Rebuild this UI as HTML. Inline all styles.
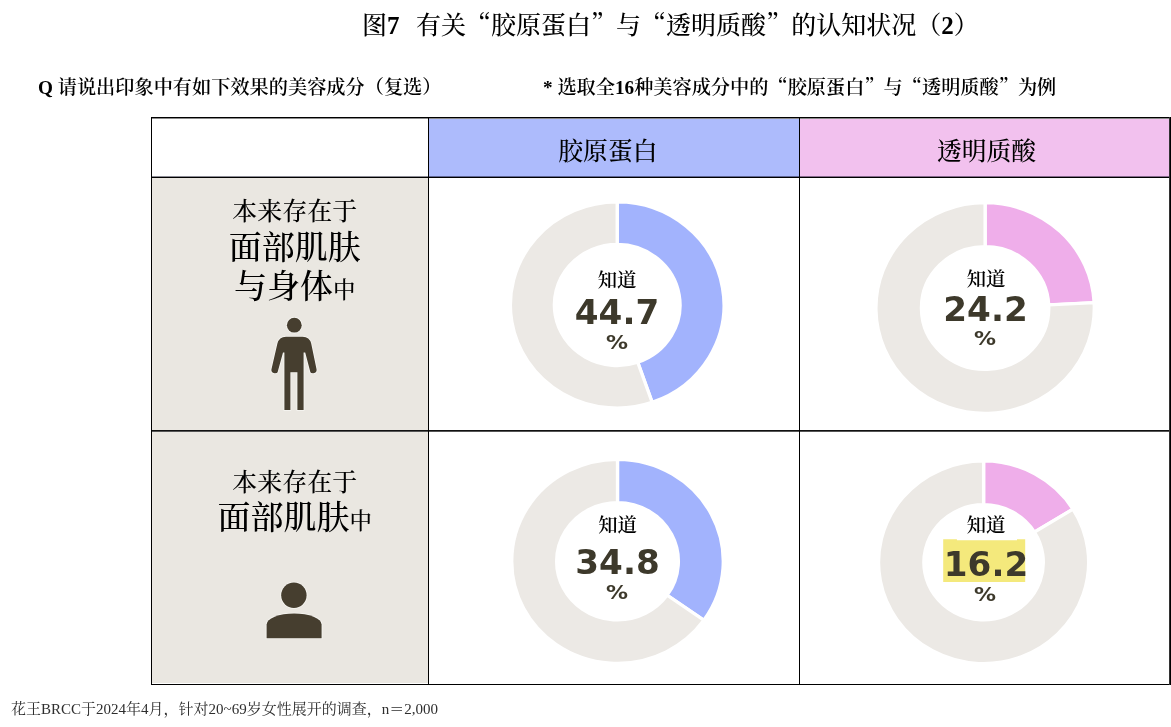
<!DOCTYPE html>
<html lang="zh-CN"><head><meta charset="utf-8"><title>图7 有关“胶原蛋白”与“透明质酸”的认知状况（2）</title>
<style>
*{margin:0;padding:0;box-sizing:border-box}
html,body{width:1171px;height:727px;background:#fff;overflow:hidden}
body{position:relative;font-family:"Liberation Serif","Noto Serif CJK SC",serif;color:#000}
.a{position:absolute;white-space:nowrap}
.ln{position:absolute;background:#000}
.cell{position:absolute}
.cq{font-family:"Noto Serif CJK SC",serif;line-height:0}
.ql{text-align:right}
.qr{text-align:left}
.b{font-weight:bold}
.title{left:362px;top:10.2px;font-size:25px;line-height:32px;font-weight:500}
.title .b{font-weight:bold}
.sub{font-size:19.2px;line-height:24px;font-weight:600}
.sub .b{font-weight:bold}
.hd{font-size:24.8px;line-height:30px;font-weight:500}
.lab{text-align:center;left:156.7px;width:276px;font-weight:500}
.kn{font-size:19.3px;line-height:22px;text-align:center;width:80px;font-weight:600}
.num{font-family:"DejaVu Sans",sans-serif;font-weight:bold;color:#3d392b;font-size:34.2px;line-height:36px;text-align:center;width:120px}
.pc{font-family:"DejaVu Sans",sans-serif;font-weight:bold;color:#3d392b;font-size:18.8px;line-height:22px;text-align:center;width:60px;transform:scaleX(1.17)}
.foot{left:11px;top:698.5px;font-size:15px;line-height:20px;color:#2e2e2e}
</style></head><body>
<div class="a title">图<span class="b">7</span><span style="display:inline-block;width:16.5px"></span>有关<span class="cq">“</span>胶原蛋白<span class="cq">”</span>与<span class="cq">“</span>透明质酸<span class="cq">”</span>的认知状况（<span class="b">2</span>）</div>
<div class="a sub" style="left:38px;top:76px"><span class="b">Q</span> 请说出印象中有如下效果的美容成分（复选）</div>
<div class="a sub" style="left:543px;top:76px"><span class="b">*</span> 选取全<span class="b">16</span>种美容成分中的<span class="cq">“</span>胶原蛋白<span class="cq">”</span>与<span class="cq">“</span>透明质酸<span class="cq">”</span>为例</div>

<div class="cell" style="left:429px;top:118px;width:370px;height:59px;background:#adbbfc"></div>
<div class="cell" style="left:800px;top:118px;width:369px;height:59px;background:#f2c1ee"></div>
<div class="cell" style="left:152px;top:178px;width:276px;height:252px;background:#eae7e1"></div>
<div class="cell" style="left:152px;top:432px;width:276px;height:251px;background:#eae7e1"></div>

<div class="a hd" style="left:422.4px;width:371px;text-align:center;top:136.5px">胶原蛋白</div>
<div class="a hd" style="left:801px;width:371px;text-align:center;top:136.5px">透明质酸</div>

<div class="a lab" style="top:196.5px;font-size:25px;line-height:30px">本来存在于</div>
<div class="a lab" style="top:228px;font-size:33px;line-height:40px">面部肌肤</div>
<div class="a lab" style="top:266.5px;font-size:33px;line-height:40px">与身体<span style="font-size:22.5px">中</span></div>

<div class="a lab" style="top:468px;font-size:25px;line-height:30px">本来存在于</div>
<div class="a lab" style="top:498.2px;font-size:33px;line-height:40px">面部肌肤<span style="font-size:22.5px">中</span></div>

<svg class="a" style="left:0;top:0" width="1171" height="727" viewBox="0 0 1171 727">
<g transform="translate(617.2 305.0) scale(1.037 1)" stroke="#fff" stroke-width="3.2" stroke-linejoin="miter"><path fill="#a2b3fd" d="M0.00 -103.00A103.0 103.0 0 0 1 33.67 97.34L19.81 57.27A60.6 60.6 0 0 0 0.00 -60.60Z"/><path fill="#ece9e5" d="M33.67 97.34A103.0 103.0 0 1 1 -0.00 -103.00L-0.00 -60.60A60.6 60.6 0 1 0 19.81 57.27Z"/></g><g transform="translate(985.1 308.0) scale(1.037 1)" stroke="#fff" stroke-width="3.2" stroke-linejoin="miter"><path fill="#efaeea" d="M0.00 -105.30A105.3 105.3 0 0 1 105.17 -5.29L61.32 -3.09A61.4 61.4 0 0 0 0.00 -61.40Z"/><path fill="#ece9e5" d="M105.17 -5.29A105.3 105.3 0 1 1 -0.00 -105.30L-0.00 -61.40A61.4 61.4 0 1 0 61.32 -3.09Z"/></g><g transform="translate(617.5 561.3) scale(1.037 1)" stroke="#fff" stroke-width="3.2" stroke-linejoin="miter"><path fill="#a2b3fd" d="M0.00 -102.00A102.0 102.0 0 0 1 83.27 58.91L47.92 33.90A58.699999999999996 58.699999999999996 0 0 0 0.00 -58.70Z"/><path fill="#ece9e5" d="M83.27 58.91A102.0 102.0 0 1 1 -0.00 -102.00L-0.00 -58.70A58.699999999999996 58.699999999999996 0 1 0 47.92 33.90Z"/></g><g transform="translate(983.6 562.3) scale(1.037 1)" stroke="#fff" stroke-width="3.2" stroke-linejoin="miter"><path fill="#efaeea" d="M0.00 -101.30A101.3 101.3 0 0 1 86.21 -53.20L49.02 -30.25A57.6 57.6 0 0 0 0.00 -57.60Z"/><path fill="#ece9e5" d="M86.21 -53.20A101.3 101.3 0 1 1 -0.00 -101.30L-0.00 -57.60A57.6 57.6 0 1 0 49.02 -30.25Z"/></g>
<path d="M943.2 539.2H956.9V540.3H1017V539.2H1025.2V582H943.2Z" fill="#f4e97c"/>
<g fill="#463e2f" stroke="#f8f7f3" stroke-width="1.6" paint-order="stroke">
<circle cx="294.3" cy="325.2" r="7.4"/>
<path d="M284.4 410V352.5H283L277.6 372.2Q277 373.4 274.5 373.2Q271 372.6 271.4 369.6L277.4 343.6Q279 337 286 336.8H302.6Q309.6 337 311.2 343.6L316.6 369.6Q317 372.6 313.5 373.2Q311 373.4 310.4 372.2L305.2 352.5H303.6V410H297.4V372.3H290.4V410Z"/>
</g>
<g fill="#463e2f" stroke="#f8f7f3" stroke-width="1.6" paint-order="stroke">
<circle cx="293.9" cy="595.3" r="12.7"/>
<path d="M266.6 638.2V624.5A27.5 11 0 0 1 321.6 624.5V638.2Z"/>
</g>
</svg>

<div class="a kn" style="left:577px;top:269.5px">知道</div>
<div class="a num" style="left:557px;top:294.4px">44.7</div>
<div class="a pc" style="left:587px;top:332px">%</div>

<div class="a kn" style="left:946px;top:269.3px">知道</div>
<div class="a num" style="left:925.5px;top:291px">24.2</div>
<div class="a pc" style="left:954.5px;top:328px">%</div>

<div class="a kn" style="left:577.5px;top:515px">知道</div>
<div class="a num" style="left:557.5px;top:543.5px">34.8</div>
<div class="a pc" style="left:587px;top:582px">%</div>

<div class="a kn" style="left:946px;top:515px">知道</div>
<div class="a num" style="left:926px;top:546px">16.2</div>
<div class="a pc" style="left:954.5px;top:584px">%</div>

<div class="ln" style="left:151px;top:117px;width:1020px;height:1px"></div>
<div class="ln" style="left:151px;top:118px;width:1020px;height:1px;background:#8a8a8a"></div>
<div class="ln" style="left:152px;top:176px;width:1017px;height:1px;background:rgba(0,0,20,.45)"></div>
<div class="ln" style="left:151px;top:177px;width:1019px;height:1px"></div>
<div class="ln" style="left:151px;top:430px;width:1019px;height:1px;background:#111"></div>
<div class="ln" style="left:151px;top:431px;width:1019px;height:1px;background:#555"></div>
<div class="ln" style="left:151px;top:684px;width:1019px;height:1px"></div>
<div class="ln" style="left:151px;top:117px;width:1px;height:568px"></div>
<div class="ln" style="left:428px;top:117px;width:1px;height:568px"></div>
<div class="ln" style="left:799px;top:117px;width:1px;height:568px"></div>
<div class="ln" style="left:1169px;top:117px;width:2px;height:568px"></div>
<div class="ln" style="left:1169px;top:117px;width:1px;height:568px;background:#333"></div>

<div class="a foot">花王BRCC于2024年4月，针对20~69岁女性展开的调查，n＝2,000</div>
</body></html>
